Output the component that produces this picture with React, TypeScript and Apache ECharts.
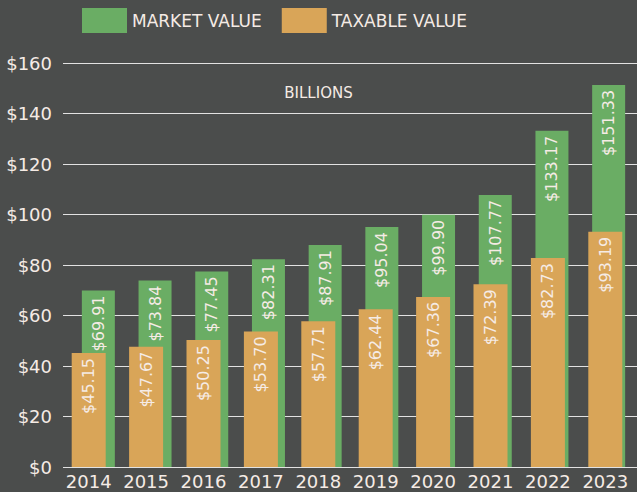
import React, { useEffect, useRef } from 'react';
import * as echarts from 'echarts';

const years = ['2014', '2015', '2016', '2017', '2018', '2019', '2020', '2021', '2022', '2023'];
const marketValue = [69.91, 73.84, 77.45, 82.31, 87.91, 95.04, 99.9, 107.77, 133.17, 151.33];
const taxableValue = [45.15, 47.67, 50.25, 53.7, 57.71, 62.44, 67.36, 72.39, 82.73, 93.19];
const yMin = 0;
const yMax = 160;
const yStep = 20;

const BG = '#4b4d4c';
const GREEN = '#6aad64';
const ORANGE = '#d9a558';
const TEXT = '#f5ebe5';
const FONT = 'DejaVu Sans';

export default function App() {
  const ref = useRef<HTMLDivElement>(null);
  useEffect(() => {
    document.body.style.margin = '0';
    document.body.style.background = BG;
    const chart = echarts.init(ref.current!, null, { renderer: 'svg' });
    const barLabel = {
      show: true,
      position: 'insideTop',
      rotate: 90,
      align: 'right',
      verticalAlign: 'middle',
      distance: 5,
      color: TEXT,
      fontSize: 16,
      fontFamily: FONT,
      formatter: (p: any) => '$' + Number(p.value).toFixed(2),
    };
    const hiddenY = (gridIndex: number) => ({
      type: 'value', gridIndex, min: yMin, max: yMax, interval: yStep, show: false,
      splitLine: { show: false },
    });
    chart.setOption({
      animation: false,
      backgroundColor: BG,
      textStyle: { fontFamily: FONT },
      title: {
        text: 'BILLIONS',
        left: 'center',
        top: 80,
        textStyle: { color: TEXT, fontSize: 15, fontWeight: 'normal', fontFamily: FONT },
      },
      legend: {
        data: ['MARKET VALUE', 'TAXABLE VALUE'],
        left: 82,
        top: 8,
        padding: 0,
        itemWidth: 45,
        itemHeight: 25,
        itemGap: 20,
        icon: 'rect',
        textStyle: { color: TEXT, fontSize: 17, fontFamily: FONT },
      },
      grid: [
        { left: 63, right: 0, top: 63, bottom: 25 },
        { left: 60, right: 3, top: 63, bottom: 25 },
        { left: 70, right: -7, top: 63, bottom: 25 },
      ],
      xAxis: [
        { type: 'value', gridIndex: 0, show: false, splitLine: { show: false } },
        {
          type: 'category', gridIndex: 1, data: years,
          axisLine: { show: false }, axisTick: { show: false },
          axisLabel: { color: TEXT, fontSize: 18, fontFamily: FONT, margin: 5, interval: 0 },
        },
        { type: 'category', gridIndex: 2, data: years, show: false },
      ],
      yAxis: [
        {
          type: 'value', gridIndex: 0, min: yMin, max: yMax, interval: yStep,
          axisLine: { show: false }, axisTick: { show: false },
          axisLabel: {
            color: TEXT, fontSize: 18, fontFamily: FONT, margin: 11,
            formatter: (v: number) => '$' + v,
          },
          splitLine: { show: true, lineStyle: { color: '#e2e2e2', width: 1.2 } },
        },
        hiddenY(1),
        hiddenY(2),
      ],
      series: [
        {
          name: 'MARKET VALUE', type: 'bar', xAxisIndex: 2, yAxisIndex: 2,
          data: marketValue, barWidth: 33, z: 2,
          itemStyle: { color: GREEN },
          label: barLabel,
        },
        {
          name: 'TAXABLE VALUE', type: 'bar', xAxisIndex: 1, yAxisIndex: 1,
          data: taxableValue, barWidth: 34, z: 3,
          itemStyle: { color: ORANGE },
          label: barLabel,
        },
      ],
    });
    return () => chart.dispose();
  }, []);
  return <div ref={ref} style={{ width: 637, height: 492 }} />;
}
